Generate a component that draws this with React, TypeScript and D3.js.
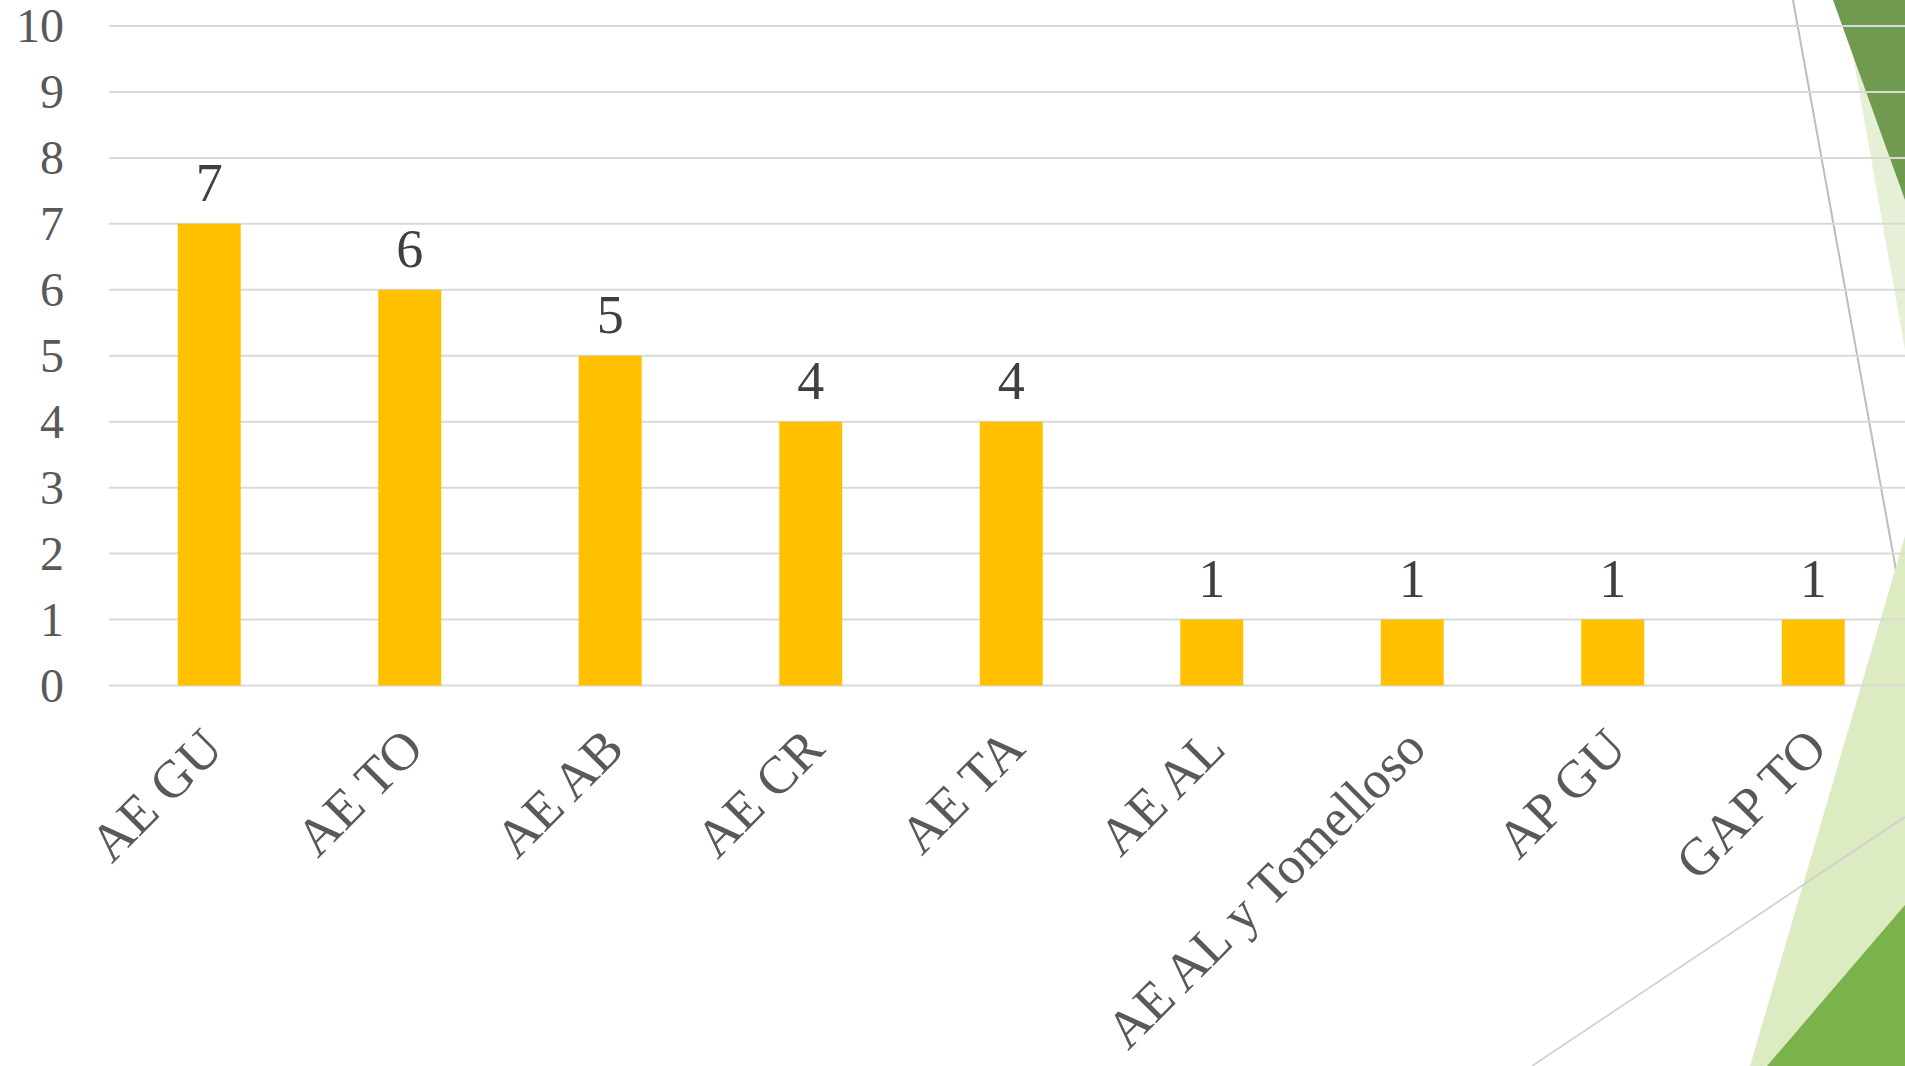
import React from "react";
import * as d3 from "d3";

const categories = ["AE GU", "AE TO", "AE AB", "AE CR", "AE TA", "AE AL", "AE AL y Tomelloso", "AP GU", "GAP TO"];
const values = [7, 6, 5, 4, 4, 1, 1, 1, 1];
const yTicks = [0, 1, 2, 3, 4, 5, 6, 7, 8, 9, 10];

const W = 1905;
const H = 1066;

export default function App() {
  const x = d3
    .scaleBand<string>()
    .domain(categories)
    .range([109, 109 + 9 * 200.5])
    .paddingInner(0.686)
    .paddingOuter(0.343);
  const y = d3.scaleLinear().domain([0, 10]).range([685.5, 26]);
  const font = "'Liberation Serif', 'Times New Roman', serif";

  const darkTri = d3.line()([[1833, 0], [1905, 200], [1905, 0]]) + "Z";
  const lightTop = d3.line()([[1843, 0], [1905, 350], [1905, 0]]) + "Z";
  const lightBottom = d3.line()([[1905, 536], [1750, 1066], [1905, 1066]]) + "Z";
  const midBottom = d3.line()([[1905, 905], [1767, 1066], [1905, 1066]]) + "Z";

  return (
    <svg
      width={W}
      height={H}
      style={{ position: "absolute", left: 0, top: 0, background: "#fff", display: "block" }}
    >
      {/* slide decorations */}
      <path d={lightTop} fill="#E6F0D6" />
      <path d={darkTri} fill="#6F9A50" />
      <line x1={1793} y1={0} x2={1905} y2={620} stroke="#BDBDBD" strokeWidth={2} />
      <path d={lightBottom} fill="#DDEBC3" />
      <path d={midBottom} fill="#7AB24B" />
      <line x1={1532} y1={1066} x2={1905} y2={817} stroke="#CFCFCF" strokeWidth={1.6} />

      {/* gridlines */}
      {yTicks.map((t) => (
        <line key={"g" + t} x1={109} x2={W} y1={y(t)} y2={y(t)} stroke="#D9D9D9" strokeWidth={2} />
      ))}

      {/* y tick labels */}
      {yTicks.map((t) => (
        <text
          key={"t" + t}
          x={64}
          y={y(t) + 16}
          textAnchor="end"
          fontFamily={font}
          fontSize={48}
          fill="#595959"
        >
          {t}
        </text>
      ))}

      {/* bars */}
      {categories.map((c, i) => (
        <rect
          key={"b" + c}
          x={x(c)}
          y={y(values[i])}
          width={x.bandwidth()}
          height={y(0) - y(values[i])}
          fill="#FFC000"
        />
      ))}

      {/* data labels */}
      {categories.map((c, i) => (
        <text
          key={"l" + c}
          x={(x(c) as number) + x.bandwidth() / 2}
          y={y(values[i]) - 23}
          textAnchor="middle"
          fontFamily={font}
          fontSize={54}
          fill="#404040"
        >
          {values[i]}
        </text>
      ))}

      {/* category labels */}
      {categories.map((c) => {
        const cx = (x(c) as number) + x.bandwidth() / 2 + 16;
        const cy = 751;
        return (
          <text
            key={"c" + c}
            x={cx}
            y={cy}
            textAnchor="end"
            transform={`rotate(-45 ${cx} ${cy})`}
            fontFamily={font}
            fontSize={53}
            fill="#595959"
          >
            {c}
          </text>
        );
      })}
    </svg>
  );
}
